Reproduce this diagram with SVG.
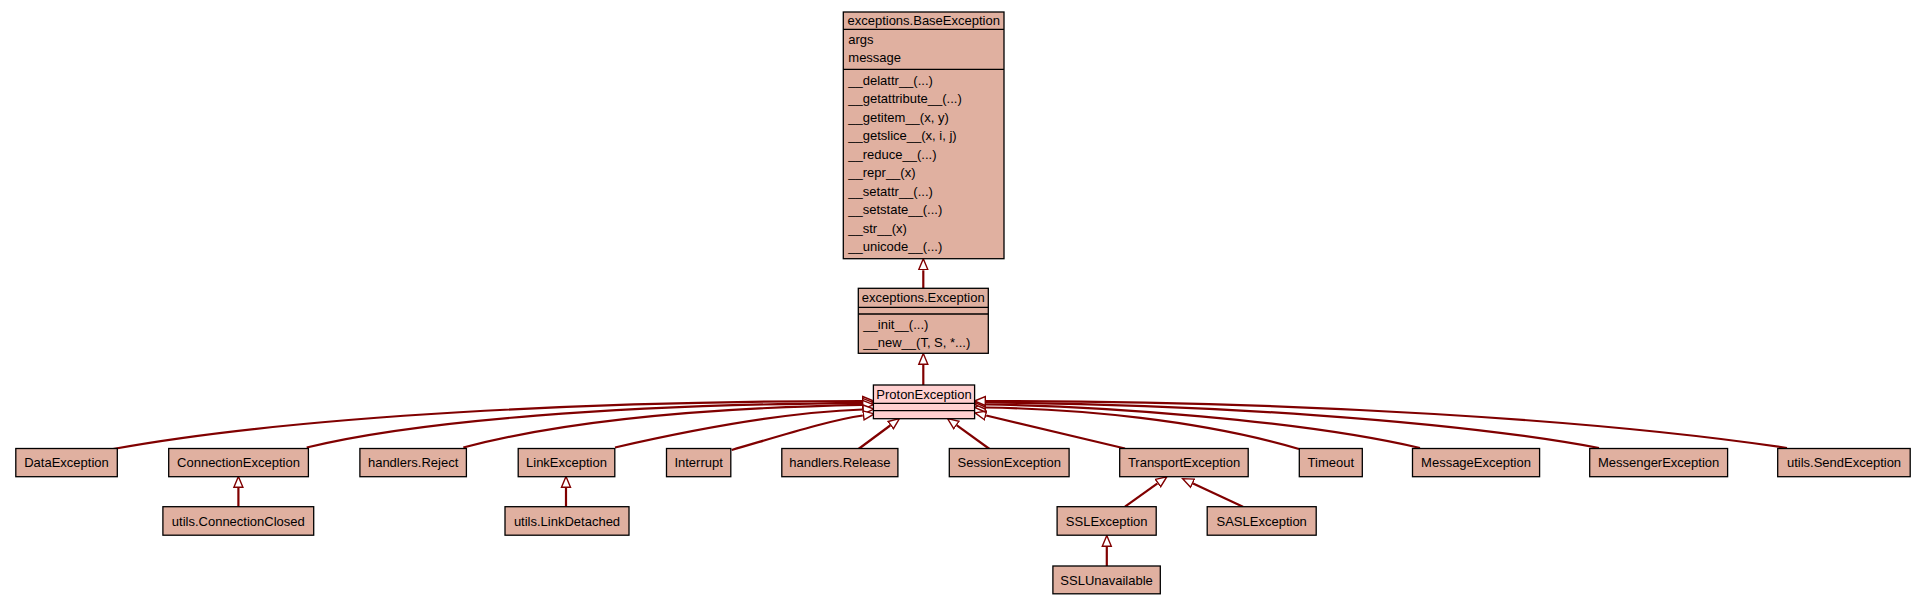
<svg xmlns="http://www.w3.org/2000/svg" width="1925" height="605" viewBox="0 0 1925 605">
<style>
.box{fill:#e0b0a0;stroke:#000;stroke-width:1.3}
.sel{fill:#ffd0d0;stroke:#000;stroke-width:1.3}
.sep{stroke:#000;stroke-width:1.3}
text{font-family:"Liberation Sans",Arial,sans-serif;font-size:13px;fill:#000}
.c{text-anchor:middle}
.e{fill:none;stroke:#800000;stroke-width:2.2;marker-end:url(#tri)}
</style>
<defs>
<marker id="tri" markerUnits="userSpaceOnUse" viewBox="0 -6 13 12" refX="0" refY="0" markerWidth="13" markerHeight="12" orient="auto">
<path d="M0.7,-4.5 L11.5,0 L0.7,4.5 Z" fill="#fff" stroke="#800000" stroke-width="1.4"/>
</marker>
</defs>
<g id="connectors">
<path class="e" d="M923.3,288.3 L923.3,270.3"/>
<path class="e" d="M923.3,385 L923.3,365"/>
<path class="e" d="M238.4,506.7 L238.4,488"/>
<path class="e" d="M566,506.7 L566,488"/>
<path class="e" d="M1106.8,566 L1106.8,547"/>
<path class="e" d="M1125,506.7 L1157.5,483.4"/>
<path class="e" d="M1243,506.7 L1193.1,483.5"/>
<path class="e" d="M113,449 C300,415 600,401 862,401"/>
<path class="e" d="M306.7,447.5 C420,420 620,405 862,402.8"/>
<path class="e" d="M463.3,447.5 C560,422 700,408 862,404.8"/>
<path class="e" d="M615,447.5 C700,428 790,412 862.5,409.5"/>
<path class="e" d="M731.7,450 C780,436 830,420 862.8,415.5"/>
<path class="e" d="M858.5,449 L890.2,425.5"/>
<path class="e" d="M989.5,449 L956.9,425.4"/>
<path class="e" d="M1125,448.5 L986.2,415.5"/>
<path class="e" d="M1299,449 C1200,420 1080,409 986,407.5"/>
<path class="e" d="M1420,448 C1300,420 1100,406 986,404.5"/>
<path class="e" d="M1599,448 C1450,420 1200,404 986,402.5"/>
<path class="e" d="M1787,448 C1600,420 1300,401 986,401"/>
</g>
<g id="BaseException">
<rect class="box" x="843.3" y="12" width="160.7" height="246.7"/>
<line class="sep" x1="843.3" y1="29.3" x2="1004" y2="29.3"/>
<line class="sep" x1="843.3" y1="69.3" x2="1004" y2="69.3"/>
<text class="c" x="923.7" y="24.5">exceptions.BaseException</text>
<text x="848.3" y="43.5">args</text>
<text x="848.3" y="62">message</text>
<text x="848.3" y="84.5">__delattr__(...)</text>
<text x="848.3" y="103">__getattribute__(...)</text>
<text x="848.3" y="121.5">__getitem__(x, y)</text>
<text x="848.3" y="140">__getslice__(x, i, j)</text>
<text x="848.3" y="158.5">__reduce__(...)</text>
<text x="848.3" y="177">__repr__(x)</text>
<text x="848.3" y="195.5">__setattr__(...)</text>
<text x="848.3" y="214">__setstate__(...)</text>
<text x="848.3" y="232.5">__str__(x)</text>
<text x="848.3" y="251">__unicode__(...)</text>
</g>
<g id="Exception">
<rect class="box" x="858.3" y="288.3" width="130" height="65"/>
<line class="sep" x1="858.3" y1="307.3" x2="988.3" y2="307.3"/>
<line class="sep" x1="858.3" y1="314" x2="988.3" y2="314"/>
<text class="c" x="923.3" y="301.5">exceptions.Exception</text>
<text x="863.3" y="328.5">__init__(...)</text>
<text x="863.3" y="347">__new__(T, S, *...)</text>
</g>
<g id="ProtonException">
<rect class="sel" x="873.4" y="385" width="101.2" height="33.7"/>
<line class="sep" x1="873.4" y1="403.3" x2="974.6" y2="403.3"/>
<line class="sep" x1="873.4" y1="410.7" x2="974.6" y2="410.7"/>
<text class="c" x="924" y="398.5">ProtonException</text>
</g>
<g id="DataException"><rect class="box" x="15.8" y="448.5" width="101.5" height="28.2"/><text class="c" x="66.5" y="467">DataException</text></g>
<g id="ConnectionException"><rect class="box" x="168.7" y="448.5" width="139.7" height="28.2"/><text class="c" x="238.5" y="467">ConnectionException</text></g>
<g id="handlersReject"><rect class="box" x="359.9" y="448.5" width="106.5" height="28.2"/><text class="c" x="413.1" y="467">handlers.Reject</text></g>
<g id="LinkException"><rect class="box" x="518.2" y="448.5" width="96.6" height="28.2"/><text class="c" x="566.5" y="467">LinkException</text></g>
<g id="Interrupt"><rect class="box" x="666.5" y="448.5" width="64.3" height="28.2"/><text class="c" x="698.6" y="467">Interrupt</text></g>
<g id="handlersRelease"><rect class="box" x="781.8" y="448.5" width="116.1" height="28.2"/><text class="c" x="839.8" y="467">handlers.Release</text></g>
<g id="SessionException"><rect class="box" x="949.3" y="448.5" width="119.8" height="28.2"/><text class="c" x="1009.2" y="467">SessionException</text></g>
<g id="TransportException"><rect class="box" x="1119.7" y="448.5" width="128.5" height="28.2"/><text class="c" x="1184" y="467">TransportException</text></g>
<g id="Timeout"><rect class="box" x="1299.3" y="448.5" width="63" height="28.2"/><text class="c" x="1330.8" y="467">Timeout</text></g>
<g id="MessageException"><rect class="box" x="1412.5" y="448.5" width="127.1" height="28.2"/><text class="c" x="1476" y="467">MessageException</text></g>
<g id="MessengerException"><rect class="box" x="1589.7" y="448.5" width="137.9" height="28.2"/><text class="c" x="1658.6" y="467">MessengerException</text></g>
<g id="utilsSendException"><rect class="box" x="1777.7" y="448.5" width="132.5" height="28.2"/><text class="c" x="1844" y="467">utils.SendException</text></g>
<g id="utilsConnectionClosed"><rect class="box" x="162.9" y="506.7" width="150.8" height="28.5"/><text class="c" x="238.3" y="525.5">utils.ConnectionClosed</text></g>
<g id="utilsLinkDetached"><rect class="box" x="505" y="506.7" width="124" height="28.5"/><text class="c" x="567" y="525.5">utils.LinkDetached</text></g>
<g id="SSLException"><rect class="box" x="1057.1" y="506.7" width="99.1" height="28.5"/><text class="c" x="1106.7" y="525.5">SSLException</text></g>
<g id="SASLException"><rect class="box" x="1207.2" y="506.7" width="109" height="28.5"/><text class="c" x="1261.7" y="525.5">SASLException</text></g>
<g id="SSLUnavailable"><rect class="box" x="1052.9" y="566" width="107.4" height="27.8"/><text class="c" x="1106.6" y="584.5">SSLUnavailable</text></g>
</svg>
